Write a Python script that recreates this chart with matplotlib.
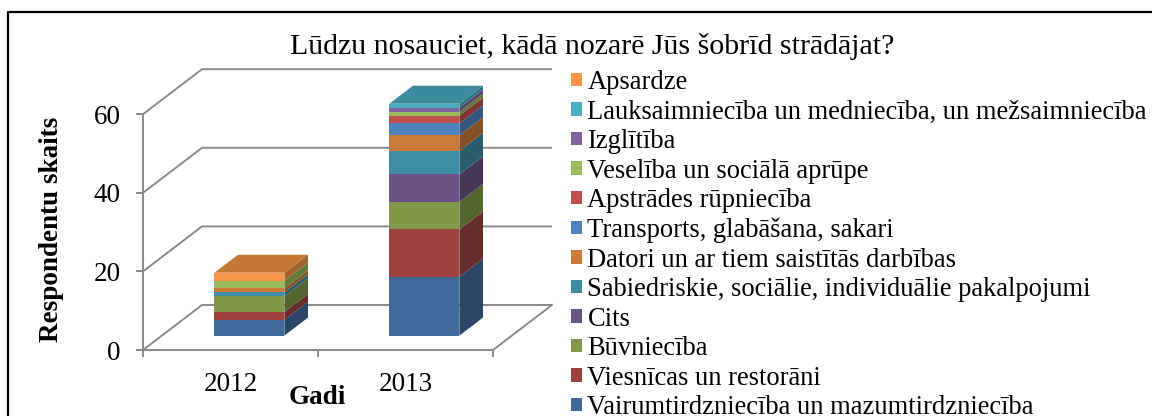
import matplotlib
matplotlib.use('Agg')
import matplotlib.pyplot as plt
from matplotlib.patches import Polygon, Patch
from matplotlib.lines import Line2D
import numpy as np

plt.rcParams['font.family'] = ['Liberation Serif', 'DejaVu Serif']

title = "Lūdzu nosauciet, kādā nozarē Jūs šobrīd strādājat?"
ylabel = "Respondentu skaits"
xlabel = "Gadi"
years = ['2012', '2013']
series_names = [
    'Vairumtirdzniecība un mazumtirdzniecība',
    'Viesnīcas un restorāni',
    'Būvniecība',
    'Cits',
    'Sabiedriskie, sociālie, individuālie pakalpojumi',
    'Datori un ar tiem saistītās darbības',
    'Transports, glabāšana, sakari',
    'Apstrādes rūpniecība',
    'Veselība un sociālā aprūpe',
    'Izglītība',
    'Lauksaimniecība un medniecība, un mežsaimniecība',
    'Apsardze',
]
values_2012 = [4, 2, 4, 0, 1, 1, 0, 0, 2, 0, 0, 2]
values_2013 = [15, 12, 7, 7, 6, 4, 3, 2, 1, 1, 1, 0]
colors = ['#416A9B', '#9D423F', '#7F9949', '#695285', '#3E8DA2', '#CB7B39',
          '#4F81BD', '#C0504D', '#9BBB59', '#8064A2', '#4BACC6', '#F79646']
yticks = [0, 20, 40, 60]

# ---- layout (pixels) ----
W, H = 1152, 416
ax_left, ax_right, ax_top, ax_bottom = 143, 560, 60, 350
px_per_x = 175.0
px_per_y = 3.93
depth_px = (59.0, 45.0)
grid_c = '#8A8A8A'
FS = 19.5
LFS = 19.1

fig = plt.figure(figsize=(W / 100, H / 100), dpi=100)
ax = fig.add_axes([ax_left / W, (H - ax_bottom) / H,
                   (ax_right - ax_left) / W, (ax_bottom - ax_top) / H])
ax.set_xlim(-0.5, -0.5 + (ax_right - ax_left) / px_per_x)
ax.set_ylim(0, (ax_bottom - ax_top) / px_per_y)
ax.patch.set_alpha(0)

Dx, Dy = depth_px[0] / px_per_x, depth_px[1] / px_per_y
ncat = len(years)
x0, x1 = -0.5, ncat - 0.5

# walls: gridlines on left and back wall
for v in yticks:
    ax.plot([x0, x0 + Dx, x1 + Dx], [v, v + Dy, v + Dy], color=grid_c, lw=1.4,
            solid_capstyle='butt', zorder=1, clip_on=False)
# floor right edge
ax.plot([x1, x1 + Dx], [0, Dy], color=grid_c, lw=1.4, zorder=1, clip_on=False)

# spines / ticks
for s in ['top', 'right']:
    ax.spines[s].set_visible(False)
ax.spines['left'].set_bounds(0, yticks[-1])
ax.spines['bottom'].set_bounds(x0, x1)
for s in ['left', 'bottom']:
    ax.spines[s].set_color(grid_c)
    ax.spines[s].set_linewidth(1.4)
ax.set_yticks(yticks)
ax.set_yticklabels([str(v) for v in yticks])
ax.tick_params(axis='y', length=5, width=1.4, color=grid_c, labelsize=FS, pad=11)
ax.set_xticks(range(ncat))
ax.set_xticklabels(years)
ax.tick_params(axis='x', which='major', length=0, labelsize=FS, pad=16)
ax.set_xticks(np.arange(ncat + 1) - 0.5, minor=True)
ax.tick_params(axis='x', which='minor', length=5, width=1.4, color=grid_c)

# bars (3D effect)
f = 0.32
offx, offy = Dx * f, Dy * f
bw = 0.4
bdx, bdy = Dx * 0.4, Dy * 0.4
data = np.array([values_2012, values_2013]).T  # series x categories


def shade(c, k):
    r, g, b = matplotlib.colors.to_rgb(c)
    return (r * k, g * k, b * k)


cum = np.zeros(ncat)
xs = np.arange(ncat) + offx
tops = [None] * ncat
for s, name in enumerate(series_names):
    vals = data[s]
    ax.bar(xs, vals, bottom=cum + offy, width=bw, color=colors[s], lw=0, zorder=3)
    for i in range(ncat):
        if vals[i] <= 0:
            continue
        xr = xs[i] + bw / 2
        b, t = cum[i] + offy, cum[i] + vals[i] + offy
        ax.add_patch(Polygon([(xr, b), (xr, t), (xr + bdx, t + bdy), (xr + bdx, b + bdy)],
                             closed=True, fc=shade(colors[s], 0.66), ec='none', zorder=3))
        tops[i] = (t, colors[s])
    cum = cum + vals

for i in range(ncat):
    t, c = tops[i]
    xl, xr = xs[i] - bw / 2, xs[i] + bw / 2
    ax.add_patch(Polygon([(xl, t), (xr, t), (xr + bdx, t + bdy), (xl + bdx, t + bdy)],
                         closed=True, fc=shade(c, 0.8), ec='none', zorder=3))

# texts
fig.text(592 / W, 1 - 46 / H, title, ha='center', va='center', fontsize=21.5)
fig.text(52 / W, 1 - 229 / H, ylabel, ha='center', va='center', rotation=90,
         fontsize=FS, fontweight='bold')
fig.text(317 / W, 1 - 397 / H, xlabel, ha='center', va='center',
         fontsize=FS, fontweight='bold')

# legend
handles = [Patch(fc=colors[s], ec='none', label=series_names[s]) for s in range(len(series_names))][::-1]
fig.legend(handles=handles, loc='upper left', bbox_to_anchor=(571 / W, 1 - 70 / H),
           frameon=False, fontsize=LFS, handlelength=0.4, handleheight=0.4,
           handletextpad=0.22, labelspacing=0.17, borderpad=0, borderaxespad=0)

# chart border (top and left edges visible)
fig.add_artist(Line2D([8 / W, 8 / W, 1.0], [0.0, 1 - 12 / H, 1 - 12 / H],
                      transform=fig.transFigure, color='black', lw=1.6))

fig.savefig('out.png', dpi=100)
